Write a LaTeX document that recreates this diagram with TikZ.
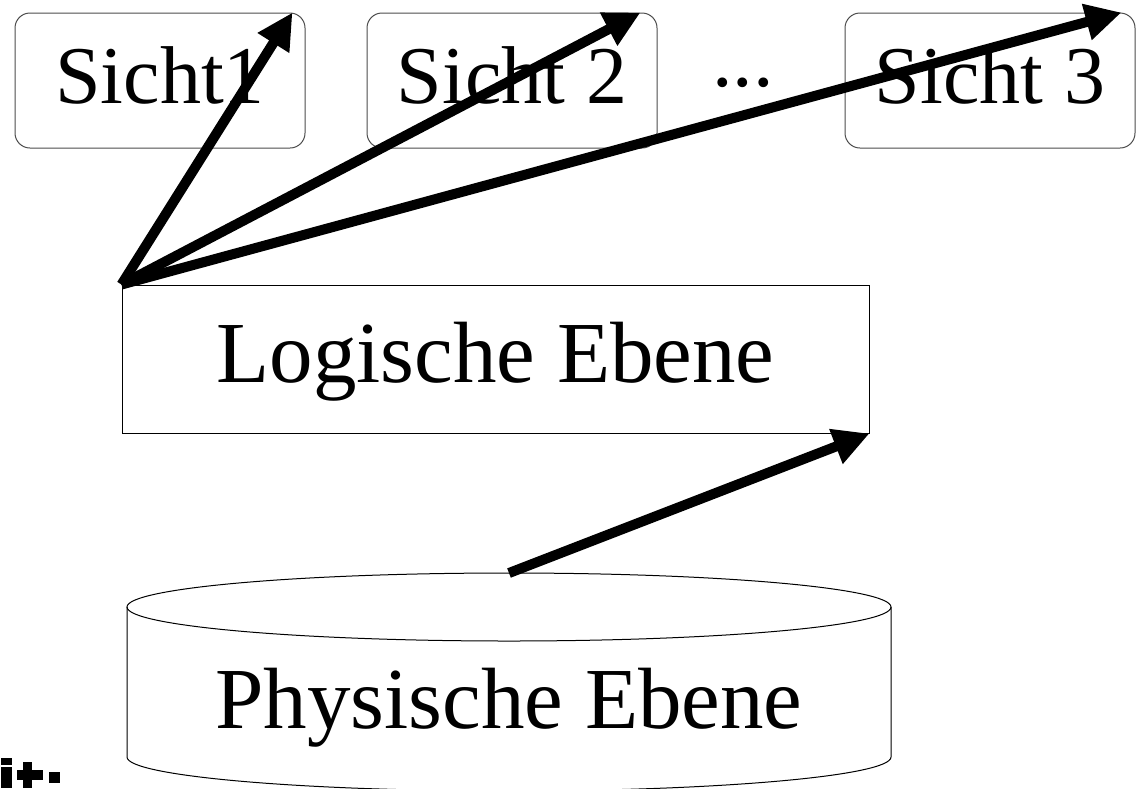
\documentclass[tikz,border=0pt]{standalone}
\usepackage{fontspec}
\setmainfont{Liberation Serif}
\usetikzlibrary{arrows.meta}

\begin{document}
\begin{tikzpicture}[x=1pt,y=-1pt,
    gross/.style={font=\fontsize{82}{90}\selectfont,inner sep=0pt,text height=62pt,text depth=16pt},
    ebene/.style={gross,font=\fontsize{87}{95}\selectfont},
    sicht/.style={gross,draw=black!70,line width=1pt,rounded corners=15pt,minimum width=290pt,minimum height=135pt},
    pfeil/.style={line width=10pt,-{Triangle[length=36pt,width=35pt]}}]
    \useasboundingbox (0,0) rectangle (1139,788);
    \node[sicht] (S1) at (160,80.5) {Sicht1};
    \node[sicht] (S2) at (512,80.5) {Sicht 2};
    \node[sicht] (S3) at (990,80.5) {Sicht 3};
    \node[gross,anchor=base] (dots) at (743,86) {...};
    \node[ebene,draw,line width=1pt,minimum width=747pt,minimum height=148pt] (log) at (495.5,359) {Logische Ebene};
    % Zylinder
    \draw[line width=1pt] (509,607) ellipse [x radius=382pt,y radius=34pt];
    \draw[line width=1pt] (127,607) -- (127,757) arc[start angle=180,end angle=360,x radius=382pt,y radius=34pt] -- (891,607);
    \node[ebene] (phys) at (509,705) {Physische Ebene};
    \coordinate (phystop) at (509,573);
    \draw[pfeil] (log.north west) -- ([xshift=-13pt]S1.north east);
    \draw[pfeil] (log.north west) -- ([xshift=-17pt]S2.north east);
    \draw[pfeil] (log.north west) -- ([xshift=-14pt]S3.north east);
    \draw[pfeil] (phystop) -- (log.south east);
    % Logo
    \fill (1,758) rectangle (12,765);
    \fill (1,767) rectangle (12,788);
    \fill (23,762) rectangle (32,788);
    \fill (17,770) rectangle (43,780);
    \fill (49,772) rectangle (60,783);
\end{tikzpicture}
\end{document}
